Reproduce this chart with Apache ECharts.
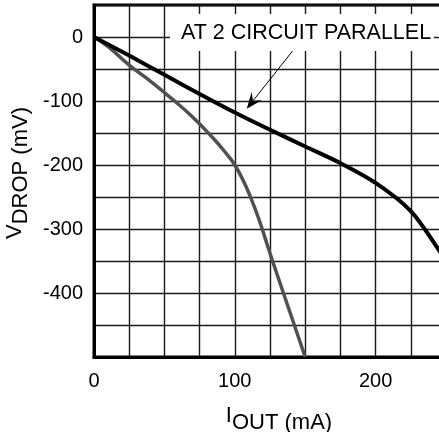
<!DOCTYPE html>
<html>
<head>
<meta charset="utf-8">
<script src="https://cdn.jsdelivr.net/npm/echarts@6/dist/echarts.min.js"></script>
<style>
html,body{margin:0;padding:0;background:#fff;}
#c{width:439px;height:432px;}
</style>
</head>
<body>
<div id="c"></div>
<script>
// Data
const blackI = [0, 25, 50, 75, 100, 125, 150, 175, 200, 225, 245, 250];
const blackV = [0, -29, -59, -89, -118, -145, -171, -197, -228, -272, -333, -352];
const grayI = [0, 10, 25, 40, 55, 70, 85, 95, 100, 105, 110, 117, 125, 137, 150];
const grayV = [0, -15, -44, -69, -96, -125, -159, -185, -200, -220, -244, -284, -338, -416, -500];
const xTickLabels = [0, 100, 200];
const yTickLabels = [0, -100, -200, -300, -400];
const annotationText = 'AT 2 CIRCUIT PARALLEL';
const arrowTip = [108.5, -112];
const arrowStart = [141, -22];

const FONT = 'Liberation Sans, Arial, sans-serif';
const chart = echarts.init(document.getElementById('c'), null, {renderer: 'canvas'});

const option = {
  animation: false,
  backgroundColor: '#fff',
  grid: {left: 94, top: 5, right: -7, bottom: 75, show: true, borderColor: '#000', borderWidth: 3, backgroundColor: 'transparent', containLabel: false, outerBoundsMode: 'none'},
  xAxis: {
    type: 'value', min: 0, max: 250, interval: 25,
    axisLine: {show: true, onZero: false, lineStyle: {color: '#000', width: 3}},
    axisTick: {show: false},
    splitLine: {show: true, lineStyle: {color: '#1a1a1a', width: 1.4}},
    axisLabel: {
      margin: 14, color: '#000', fontSize: 20, fontFamily: FONT,
      formatter: v => xTickLabels.includes(v) ? String(v) : ''
    },
    name: '{a|I}{b|OUT (mA)}',
    nameLocation: 'middle', nameGap: 48,
    nameTextStyle: {
      fontFamily: FONT, color: '#000', padding: [0, 0, 0, 18],
      rich: {
        a: {fontSize: 22, fontFamily: FONT, color: '#000', padding: [0, 0, 13, 0]},
        b: {fontSize: 22, fontFamily: FONT, color: '#000'}
      }
    }
  },
  yAxis: {
    type: 'value', min: -500, max: 50, interval: 50,
    axisLine: {show: true, onZero: false, lineStyle: {color: '#000', width: 3}},
    axisTick: {show: false},
    splitLine: {show: true, lineStyle: {color: '#1a1a1a', width: 1.4}},
    axisLabel: {
      margin: 11, color: '#000', fontSize: 20, fontFamily: FONT,
      formatter: v => yTickLabels.includes(v) ? String(v) : ''
    },
    name: '{a|V}{b|DROP (mV)}',
    nameLocation: 'middle', nameGap: 57, nameRotate: 90,
    nameTextStyle: {
      fontFamily: FONT, color: '#000', padding: [0, 0, 0, 16],
      rich: {
        a: {fontSize: 22, fontFamily: FONT, color: '#000', padding: [0, 0, 11, 0]},
        b: {fontSize: 22, fontFamily: FONT, color: '#000'}
      }
    }
  },
  series: [
    {
      type: 'line', data: grayI.map((x, i) => [x, grayV[i]]),
      smooth: 0.5, symbol: 'none', clip: true, z: 3,
      lineStyle: {color: '#505050', width: 3.5}
    },
    {
      type: 'line', data: blackI.map((x, i) => [x, blackV[i]]),
      smooth: 0.3, symbol: 'none', clip: true, z: 4,
      lineStyle: {color: '#000', width: 4}
    }
  ]
};
chart.setOption(option);

const tip = chart.convertToPixel({gridIndex: 0}, arrowTip);
const st = chart.convertToPixel({gridIndex: 0}, arrowStart);
const dx = st[0] - tip[0], dy = st[1] - tip[1];
const len = Math.hypot(dx, dy);
const ux = dx / len, uy = dy / len, px = -uy, py = ux;
const L = 16, W = 6.5, N = 10;
const back = [tip[0] + ux * L, tip[1] + uy * L];
const arrowPts = [
  tip,
  [back[0] + px * W, back[1] + py * W],
  [tip[0] + ux * N, tip[1] + uy * N],
  [back[0] - px * W, back[1] - py * W]
];

chart.setOption({
  graphic: [
    {type: 'rect', z: 100, shape: {x: 170, y: 14, width: 264, height: 37}, style: {fill: '#fff'}},
    {type: 'text', z: 101, x: 181, y: 33, style: {text: annotationText, font: '21.5px ' + FONT, fill: '#000', verticalAlign: 'middle', align: 'left'}},
    {type: 'line', z: 101, shape: {x1: st[0], y1: st[1], x2: tip[0] + ux * 8, y2: tip[1] + uy * 8}, style: {stroke: '#000', lineWidth: 1}},
    {type: 'polygon', z: 101, shape: {points: arrowPts}, style: {fill: '#000'}}
  ]
});
</script>
</body>
</html>
